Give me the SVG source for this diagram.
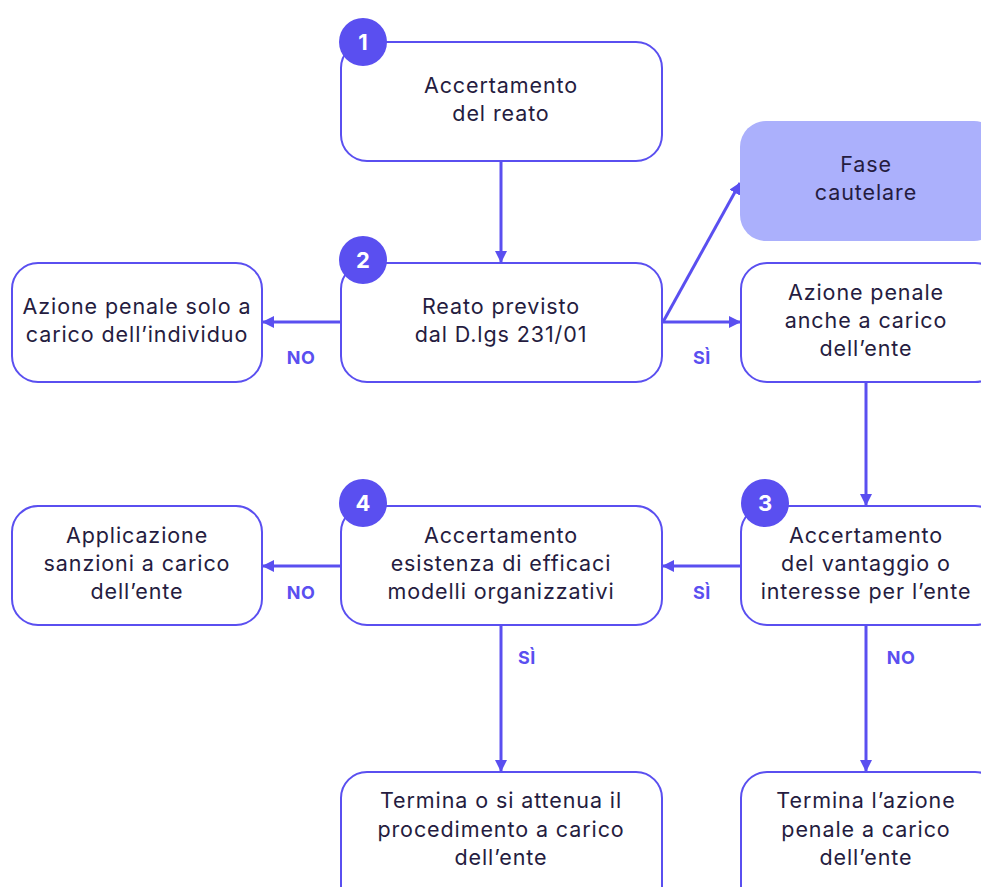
<svg xmlns="http://www.w3.org/2000/svg" width="981" height="887" viewBox="0 0 981 887">
<defs>
<marker id="ah" viewBox="0 0 12 12" refX="11" refY="6" markerWidth="12" markerHeight="12" markerUnits="userSpaceOnUse" orient="auto">
<path d="M0,0 L12,6 L0,12 z" fill="#5a4ff0"/>
</marker>
<style>
.box{fill:#fff;stroke:#5a4ff0;stroke-width:2}
.fill{fill:#abb0fc;stroke:none}
.t{font-family:Inter,"Liberation Sans",sans-serif;font-size:21.5px;letter-spacing:0.9px;fill:#251c40;text-anchor:middle}
.lbl{font-family:Inter,"Liberation Sans",sans-serif;font-size:18px;font-weight:bold;fill:#5a4ff0;text-anchor:middle;letter-spacing:0.5px}
.badge{fill:#5a4ff0}
.bn{font-family:Inter,"Liberation Sans",sans-serif;font-size:22px;font-weight:bold;fill:#fff;text-anchor:middle}
.c{stroke:#5a4ff0;stroke-width:3;fill:none;marker-end:url(#ah)}
</style>
</defs>
<rect width="981" height="887" fill="#fff"/>
<g id="connectors">
<line class="c" x1="501" y1="161" x2="501" y2="262"/>
<line class="c" x1="341" y1="322" x2="263" y2="322"/>
<line class="c" x1="662" y1="322" x2="740" y2="322"/>
<line class="c" x1="663" y1="322" x2="740" y2="183"/>
<line class="c" x1="866" y1="382" x2="866" y2="505"/>
<line class="c" x1="741" y1="566" x2="663" y2="566"/>
<line class="c" x1="341" y1="566" x2="263" y2="566"/>
<line class="c" x1="501" y1="625" x2="501" y2="771"/>
<line class="c" x1="866" y1="625" x2="866" y2="771"/>
<text class="lbl" x="301" y="364">NO</text>
<text class="lbl" x="702" y="364">SÌ</text>
<text class="lbl" x="702" y="599">SÌ</text>
<text class="lbl" x="301" y="599">NO</text>
<text class="lbl" x="527" y="664">SÌ</text>
<text class="lbl" x="901" y="664">NO</text>
</g>
<g id="n1">
<rect class="box" x="341" y="42" width="321" height="119" rx="26"/>
<text class="t" x="501" y="93">Accertamento</text>
<text class="t" x="501" y="121">del reato</text>
<circle class="badge" cx="363" cy="42" r="24"/>
<text class="bn" x="363" y="50">1</text>
</g>
<g id="n2">
<rect class="box" x="341" y="263" width="321" height="119" rx="26"/>
<text class="t" x="501" y="314">Reato previsto</text>
<text class="t" x="501" y="342">dal D.lgs 231/01</text>
<circle class="badge" cx="363" cy="260" r="24"/>
<text class="bn" x="363" y="268">2</text>
</g>
<g id="nsolo">
<rect class="box" x="12" y="263" width="250" height="119" rx="26"/>
<text class="t" x="137" y="314">Azione penale solo a</text>
<text class="t" x="137" y="342">carico dell’individuo</text>
</g>
<g id="nfase">
<rect class="fill" x="740" y="121" width="260" height="120" rx="26"/>
<text class="t" x="866" y="172">Fase</text>
<text class="t" x="866" y="200">cautelare</text>
</g>
<g id="nanche">
<rect class="box" x="741" y="263" width="260" height="119" rx="26"/>
<text class="t" x="866" y="300">Azione penale</text>
<text class="t" x="866" y="328">anche a carico</text>
<text class="t" x="866" y="356">dell’ente</text>
</g>
<g id="n3">
<rect class="box" x="741" y="506" width="260" height="119" rx="26"/>
<text class="t" x="866" y="543">Accertamento</text>
<text class="t" x="866" y="571">del vantaggio o</text>
<text class="t" x="866" y="599">interesse per l’ente</text>
<circle class="badge" cx="765" cy="503" r="24"/>
<text class="bn" x="765" y="511">3</text>
</g>
<g id="n4">
<rect class="box" x="341" y="506" width="321" height="119" rx="26"/>
<text class="t" x="501" y="543">Accertamento</text>
<text class="t" x="501" y="571">esistenza di efficaci</text>
<text class="t" x="501" y="599">modelli organizzativi</text>
<circle class="badge" cx="363" cy="503" r="24"/>
<text class="bn" x="363" y="511">4</text>
</g>
<g id="nsanz">
<rect class="box" x="12" y="506" width="250" height="119" rx="26"/>
<text class="t" x="137" y="543">Applicazione</text>
<text class="t" x="137" y="571">sanzioni a carico</text>
<text class="t" x="137" y="599">dell’ente</text>
</g>
<g id="nterm1">
<rect class="box" x="341" y="772" width="321" height="140" rx="26"/>
<text class="t" x="501" y="808">Termina o si attenua il</text>
<text class="t" x="501" y="837">procedimento a carico</text>
<text class="t" x="501" y="865">dell’ente</text>
</g>
<g id="nterm2">
<rect class="box" x="741" y="772" width="260" height="140" rx="26"/>
<text class="t" x="866" y="808">Termina l’azione</text>
<text class="t" x="866" y="837">penale a carico</text>
<text class="t" x="866" y="865">dell’ente</text>
</g>
</svg>
